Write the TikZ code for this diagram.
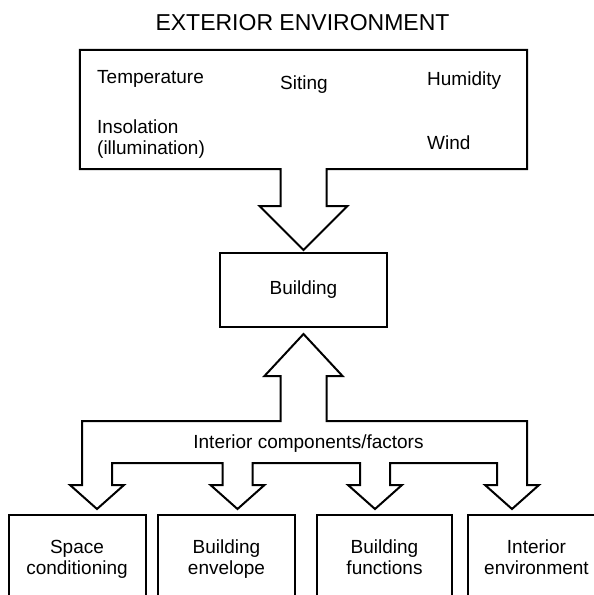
\documentclass[tikz,border=0pt]{standalone}
\usepackage{fontspec}
\setmainfont{Liberation Sans}
\usetikzlibrary{calc, positioning}

\begin{document}
\begin{tikzpicture}[
    x=1pt, y=-1pt,
    font=\fontsize{19}{21}\selectfont,
    title/.style={inner sep=0pt, anchor=base, font=\fontsize{23}{27}\selectfont},
    factor/.style={inner sep=0pt, anchor=base west},
    box/.style={draw, line width=2pt, align=center, minimum width=167pt, minimum height=74pt},
    compbox/.style={draw, line width=2pt, align=center, minimum width=137pt, minimum height=90pt},
    outline/.style={line width=2pt}
]
\clip (0,0) rectangle (594,595);

\node[title] (title) at (302.5,30) {EXTERIOR ENVIRONMENT};

\node[minimum width=447pt, minimum height=119pt, inner sep=0pt] (ext) at (303.5,109.5) {};
\node[factor] (temp) at (97,83) {Temperature};
\node[factor, anchor=base] (siting) at (304,89) {Siting};
\node[factor] (humid) at (427,85) {Humidity};
\node[factor] (insol) at (97,133) {Insolation};
\node[factor] (illum) at (97,154) {(illumination)};
\node[factor] (wind) at (427,149) {Wind};

\node[box] (bldg) at (303.5,290) {Building};

\node[compbox] (space) at (77,560) {\strut Space\\\strut conditioning};
\node[compbox] (envelope) at (226.5,560) {\strut Building\\\strut envelope};
\node[compbox, minimum width=135pt] (functions) at (384.5,560) {\strut Building\\\strut functions};
\node[compbox] (interior) at (536.5,560) {\strut Interior\\\strut environment};

\coordinate (t1) at (97,509);
\coordinate (t2) at (237.5,509);
\coordinate (t3) at (375,509);
\coordinate (t4) at (512,509);

\node[inner sep=0pt, anchor=base] (icf) at (308.5,448) {Interior components/factors};

\draw[outline] ($(bldg.north)+(0,-2)$) -- ++(-44,-44) -- ++(21,0) |- (ext.south west)
    -- (ext.north west) -- (ext.north east) -- (ext.south east)
    -| ($(bldg.north)+(23,-46)$) -- ++(21,0) -- cycle;

\draw[outline] ($(bldg.south)+(0,6)$) -- ++(-39,42) -- ++(16,0) |- ($(t1)+(-15,-88)$)
    -- ($(t1)+(-15,-24)$) -- ++(-12,0) -- (t1) -- ++(27,-24) -- ++(-12,0) -- ++(0,-22)
    -- ($(t2)+(-15,-46)$) -- ++(0,22) -- ++(-12,0) -- (t2) -- ++(27,-24) -- ++(-12,0) -- ++(0,-22)
    -- ($(t3)+(-15,-46)$) -- ++(0,22) -- ++(-12,0) -- (t3) -- ++(27,-24) -- ++(-12,0) -- ++(0,-22)
    -- ($(t4)+(-15,-46)$) -- ++(0,22) -- ++(-12,0) -- (t4) -- ++(27,-24) -- ++(-12,0) -- ++(0,-64)
    -| ($(bldg.south)+(23,48)$) -- ++(16,0) -- cycle;

\end{tikzpicture}
\end{document}
